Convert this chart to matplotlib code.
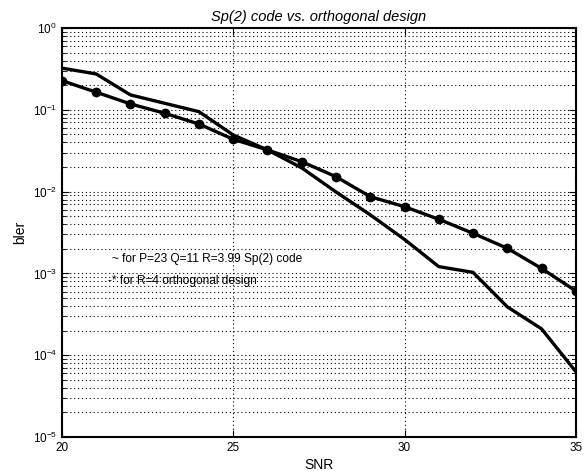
import numpy as np
import matplotlib.pyplot as plt
from matplotlib.ticker import LogLocator, NullFormatter

plt.rcParams['font.family'] = ['Liberation Sans', 'DejaVu Sans']

# SNR values (dB)
snr = [20, 21, 22, 23, 24, 25, 26, 27, 28, 29, 30, 31, 32, 33, 34, 35]

# Sp(2) code, P=23 Q=11 R=3.99 (plain line)
bler_sp2 = [0.323, 0.274, 0.152, 0.120, 0.0948, 0.0492, 0.0323, 0.0195,
            0.0099, 0.0052, 0.0026, 0.00121, 0.00103, 0.00039, 0.00021, 0.000063]

# orthogonal design R=4 (line with dots)
bler_orth = [0.227, 0.164, 0.118, 0.0906, 0.067, 0.0436, 0.0323, 0.0232,
             0.0152, 0.00867, 0.00654, 0.00459, 0.00309, 0.00203, 0.00115, 0.00061]

fig = plt.figure(figsize=(5.84, 4.74), dpi=100)
ax = fig.add_axes([0.106, 0.078, 0.880, 0.863])

ax.semilogy(snr, bler_sp2, color='black', linewidth=2.4)
ax.semilogy(snr, bler_orth, color='black', linewidth=2.4, marker='o', markersize=6)

ax.set_xlim(20, 35)
ax.set_ylim(1e-5, 1)
ax.set_xticks([20, 25, 30, 35])
ax.yaxis.set_major_locator(LogLocator(base=10, numticks=10))
ax.yaxis.set_minor_locator(LogLocator(base=10, subs=np.arange(2, 10), numticks=10))
ax.yaxis.set_minor_formatter(NullFormatter())

ax.grid(which='major', axis='x', color='black', linestyle=(0, (1, 2.5)), linewidth=0.8)
ax.grid(which='both', axis='y', color='black', linestyle=(0, (1, 2.5)), linewidth=0.8)

ax.tick_params(which='both', direction='in', top=True, right=True, labelsize=8.5)
ax.tick_params(which='major', length=5)
ax.tick_params(which='minor', length=3)
for s in ax.spines.values():
    s.set_linewidth(1.5)

ax.set_title('Sp(2) code vs. orthogonal design', fontsize=10.5, style='italic', pad=5)
ax.set_xlabel('SNR', fontsize=10, labelpad=3)
ax.set_ylabel('bler', fontsize=10)

ax.text(21.45, 1.5e-3, '~ for P=23 Q=11 R=3.99 Sp(2) code', fontsize=8.6, va='center')
ax.text(21.35, 8.1e-4, '-* for R=4 orthogonal design', fontsize=8.6, va='center')

fig.savefig('out.png', dpi=100)
